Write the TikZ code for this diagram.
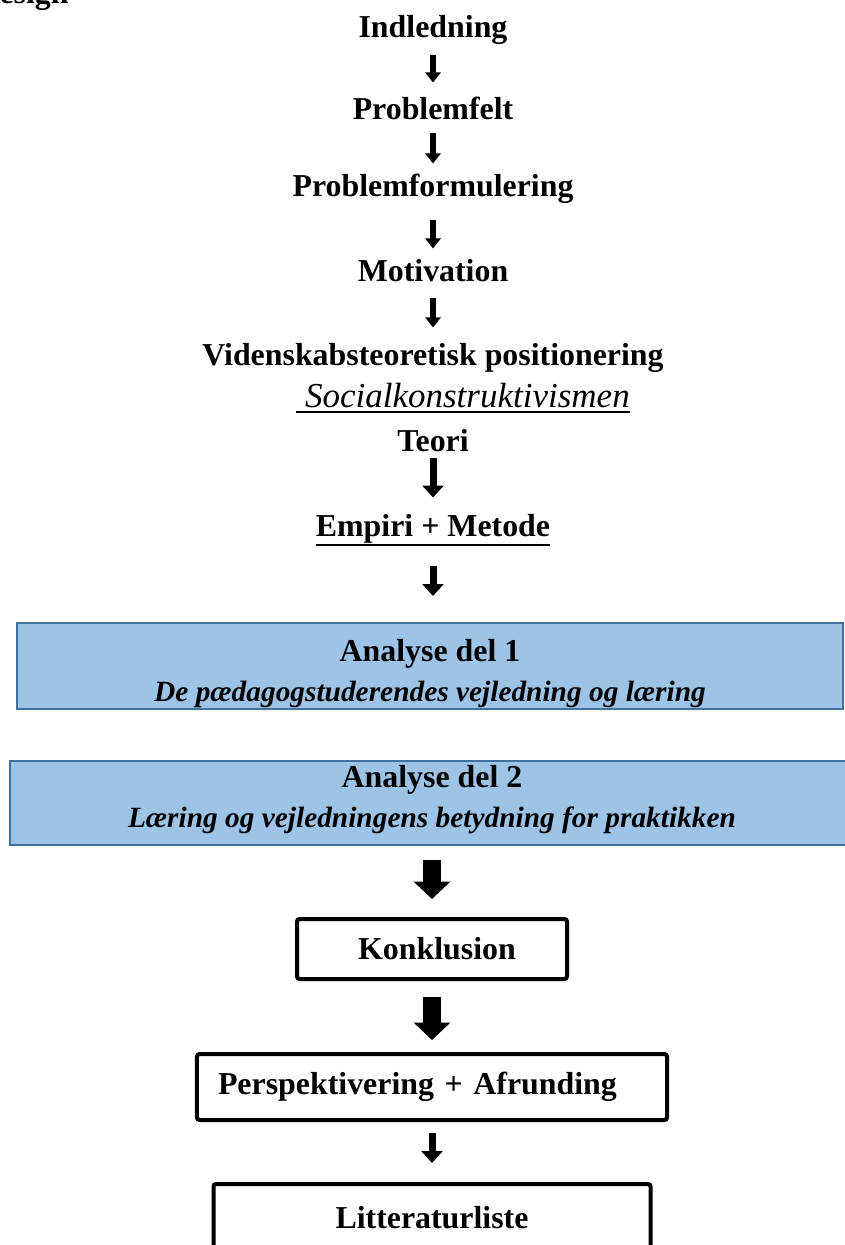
\documentclass[tikz,border=0pt]{standalone}
\usepackage{fontspec}
\setmainfont{Liberation Serif}
\usetikzlibrary{arrows.meta}
\definecolor{anfill}{HTML}{9DC3E6}
\definecolor{anline}{HTML}{41719C}
\newsavebox\ulbox
\newcommand{\undl}[2]{\sbox\ulbox{#2}\rlap{\vrule height -#1 depth \dimexpr#1+0.8pt\relax width \wd\ulbox}\usebox\ulbox}
\begin{document}
\begin{tikzpicture}[x=0.4pt, y=-0.4pt,
        lbl/.style={
            font=\bfseries\fontsize{12.75}{15}\selectfont,
            inner sep=0pt,
            text height=8.4pt,
            text depth=0pt,
            anchor=base},
        anbox/.style={
            rectangle,
            draw=anline, line width=0.8pt,
            fill=anfill,
            align=center,
            inner sep=0pt,
            font=\bfseries\fontsize{12.75}{16}\selectfont},
        blkbox/.style={
            rectangle,
            rounded corners=1pt,
            draw=black, line width=1.6pt,
            inner sep=0pt,
            font=\bfseries\fontsize{12.75}{15}\selectfont},
        arrS/.style={
            line width=2.4pt,
            -{Triangle[length=4pt,width=6pt]}},
        arrM/.style={
            line width=2.8pt,
            -{Triangle[length=4.8pt,width=8.4pt]}},
        arrL/.style={
            line width=7pt,
            -{Triangle[length=7pt,width=14.4pt]}}
        ]

        \useasboundingbox (0,0) rectangle (845,1245);

        \node (design) [lbl, anchor=base west] at (-1,4) {esign};
        \node (indl) [lbl] at (433,38) {Indledning};
        \node (pfelt) [lbl] at (433,120) {Problemfelt};
        \node (pform) [lbl] at (433,197) {Problemformulering};
        \node (motiv) [lbl] at (433,281) {Motivation};
        \node (videns) [lbl] at (433,365) {Videnskabsteoretisk positionering};
        \node (social) [lbl, font=\itshape\fontsize{14}{16}\selectfont] at (463,407) {\undl{1.6pt}{\ Socialkonstruktivismen}};
        \node (teori) [lbl] at (433,451) {Teori};
        \node (empiri) [lbl] at (433,536) {\undl{3.2pt}{Empiri + Metode}};

        \node (an1) [anbox, minimum width=330.4pt, minimum height=34.4pt] at (430,666)
            {\rule{0pt}{15.1pt}Analyse del 1\\{\itshape\fontsize{11.75}{16}\selectfont De pædagogstuderendes vejledning og læring}};
        \node (an2) [anbox, minimum width=337.6pt, minimum height=33.6pt] at (432,803)
            {Analyse del 2\\{\itshape\fontsize{11.75}{16}\selectfont Læring og vejledningens betydning for praktikken\rule[-5pt]{0pt}{0pt}}};

        \node (konkl) [blkbox, minimum width=108pt, minimum height=24pt] at (432,949) {\hspace{4pt}Konklusion};
        \node (persp) [blkbox, text width=171.2pt, inner xsep=8.4pt, align=left, minimum height=26.4pt] at (432,1087) {Perspektivering + Afrunding};
        \node (litt) [blkbox, minimum width=174.8pt, minimum height=27.2pt] at (432,1218) {Litteraturliste};

        \draw [arrS, shorten <=6.8pt, shorten >=6.4pt] (indl.south) -- (pfelt.north);
        \draw [arrS, shorten <=5.2pt, shorten >=4.8pt] (pfelt.south) -- (pform.north);
        \draw [arrS, shorten <=9.2pt, shorten >=4.4pt] (pform.south) -- (motiv.north);
        \draw [arrS, shorten <=6.4pt, shorten >=6.4pt] (motiv.south) -- (videns.north);
        \draw [arrM, shorten <=2.4pt, shorten >=6.8pt] (teori.south) -- (empiri.north);
        \draw [arrM, shorten <=11.6pt, shorten >=10.4pt] (empiri.south) -- (empiri.south |- an1.north);
        \draw [arrL, shorten <=5.6pt, shorten >=7.2pt] (an2.south) -- (konkl.north);
        \draw [arrL, shorten <=6.4pt, shorten >=4.8pt] (konkl.south) -- (persp.north);
        \draw [arrM, shorten <=4.4pt, shorten >=7.6pt] (persp.south) -- (litt.north);

\end{tikzpicture}
\end{document}
